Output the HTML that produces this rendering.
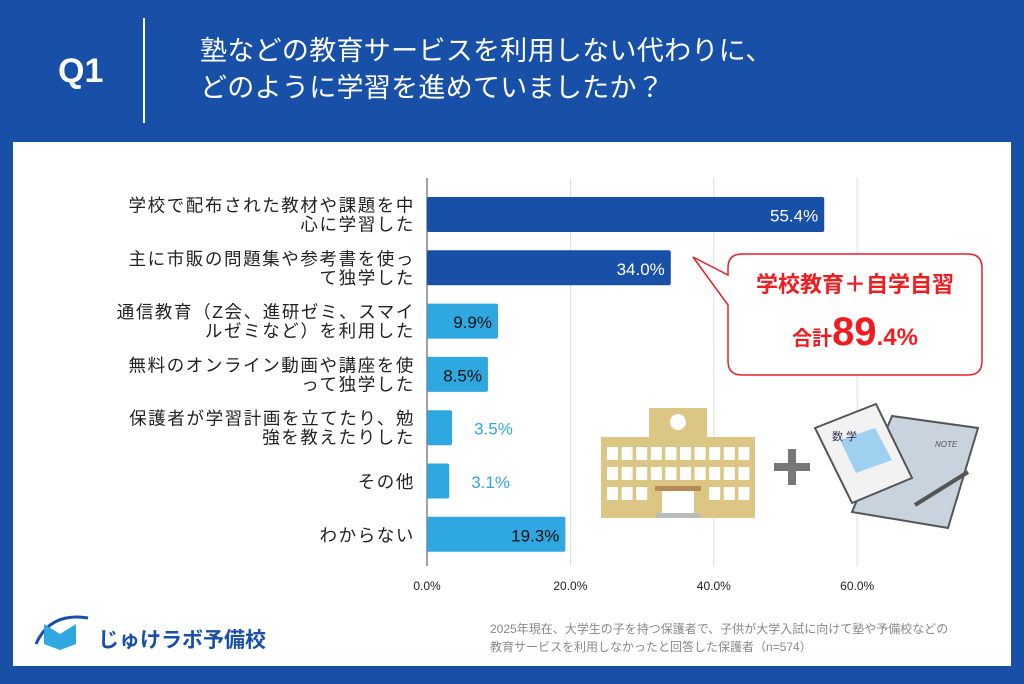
<!DOCTYPE html>
<html><head><meta charset="utf-8"><style>
body{margin:0;width:1024px;height:684px;background:#1850a8;font-family:"Liberation Sans","Noto Sans CJK JP",sans-serif;position:relative;overflow:hidden}
.abs{position:absolute}
</style></head><body>
<div class="abs" style="left:58px;top:52px;color:#fff;font-size:34px;font-weight:bold">Q1</div>
<div class="abs" style="left:143px;top:18px;width:2px;height:105px;background:#fff"></div>
<div class="abs" style="left:200px;top:33px;color:#fff;font-size:27px;line-height:37px;letter-spacing:0.3px">塾などの教育サービスを利用しない代わりに、<br>どのように学習を進めていましたか？</div>
<div class="abs" style="left:13px;top:142px;width:998px;height:524px;background:#fff"></div>
<svg class="abs" style="left:0;top:0" width="1024" height="684">
<g id="grid"></g><g id="bars"></g>
<g>
<path d="M742,254 H968 Q982,254 982,268 V361 Q982,375 968,375 H742 Q728,375 728,361 V305 L693,257 L728,275 V268 Q728,254 742,254 Z" fill="#fff" stroke="#e8202a" stroke-width="1.5"/>
<text x="855" y="292" text-anchor="middle" font-size="22" font-weight="bold" fill="#f01c20">学校教育＋自学自習</text>
<text x="855" y="345" text-anchor="middle" fill="#f01c20" font-weight="bold"><tspan font-size="20">合計</tspan><tspan font-size="40">89</tspan><tspan font-size="24">.4%</tspan></text>
</g>
<g>
<rect x="649" y="408" width="58" height="32" fill="#dcc684"/>
<circle cx="678" cy="422" r="8" fill="#fff"/>
<rect x="601" y="437" width="154" height="81" fill="#dcc684"/>
<g id="win"></g>
<rect x="655" y="486" width="46" height="5" fill="#b58a55"/>
<rect x="662" y="491" width="32" height="23" fill="#fff"/>
<rect x="656" y="513" width="44" height="5" fill="#bbb"/>
</g>
<g fill="#777"><rect x="774" y="463" width="36" height="8"/><rect x="788" y="449" width="8" height="36"/></g>
<g>
<path d="M892,416 L978,428 L948,528 L852,512 Z" fill="#c8d3de" stroke="#555" stroke-width="2"/>
<text x="935" y="447" font-size="8" fill="#555" font-style="italic">NOTE</text>
<path d="M815,428 L876,404 L912,478 L852,503 Z" fill="#f2f2f2" stroke="#555" stroke-width="2"/>
<path d="M840,440 L875,428 L892,460 L856,473 Z" fill="#9fd0f0"/>
<text x="832" y="440" font-size="11" fill="#335">数 学</text>
<line x1="915" y1="505" x2="968" y2="472" stroke="#555" stroke-width="4"/>
</g>
</svg>
<div class="abs" style="left:30px;top:612px;width:60px;height:40px">
<svg width="60" height="40"><path d="M6,32 Q20,0 58,6" stroke="#1850a8" stroke-width="3" fill="none"/><path d="M14,12 L30,22 L46,12 V32 L30,38 L14,32Z" fill="#2fa7e0"/></svg></div>
<div class="abs" style="left:98px;top:624px;color:#1850a8;font-size:21px;font-weight:bold">じゅけラボ予備校</div>
<div class="abs" style="left:490px;top:620px;color:#888;font-size:12px;line-height:18px">2025年現在、大学生の子を持つ保護者で、子供が大学入試に向けて塾や予備校などの<br>教育サービスを利用しなかったと回答した保護者（n=574）</div>
<script>
const categories=[["学校で配布された教材や課題を中","心に学習した"],["主に市販の問題集や参考書を使っ","て独学した"],["通信教育（Z会、進研ゼミ、スマイ","ルゼミなど）を利用した"],["無料のオンライン動画や講座を使","って独学した"],["保護者が学習計画を立てたり、勉","強を教えたりした"],["その他"],["わからない"]];
const values=[55.4,34.0,9.9,8.5,3.5,3.1,19.3];
const ticks=[0,20,40,60];
const NS="http://www.w3.org/2000/svg";
const x0=427,pxPer=7.17,y0=214.5,pitch=53.3,bh=35;
const xs=v=>x0+v*pxPer, ys=i=>y0+i*pitch;
function mk(t,a,p){const e=document.createElementNS(NS,t);for(const k in a)e.setAttribute(k,a[k]);p.appendChild(e);return e;}
const g=document.getElementById('grid'),b=document.getElementById('bars');
ticks.forEach(t=>{
 const l=mk('line',{x1:xs(t),x2:xs(t),y1:178,y2:566,stroke:t?'#ddd':'#444','stroke-width':1},g);
 
 
 const tx=mk('text',{x:xs(t),y:590,'text-anchor':'middle','font-size':12,fill:'#222'},g);
 tx.textContent=t.toFixed(1)+'%';
 
 
});
values.forEach((v,i)=>{
 const c=i<2?'#1850a8':'#2fa7e0';
 const r=mk('rect',{x:x0,y:ys(i)-bh/2,width:v*pxPer,height:bh,fill:c,rx:2},b);
 
 
 const small=v<5;
 const t=mk('text',{x:small?xs(v)+22:xs(v)-6,y:ys(i)+7,'text-anchor':small?'start':'end','font-size':17,fill:i<2?'#fff':(small?'#2fa7e0':'#111')},b);
 t.textContent=v.toFixed(1)+'%';
 
 
 const lines=categories[i];
 lines.forEach((s,j)=>{
  const lt=mk('text',{x:415,y:ys(i)+(lines.length>1?(j?16:-3):7),'text-anchor':'end','font-size':17.5,'letter-spacing':1.6,fill:'#222'},b);
  lt.textContent=s;
  
  
 });
});
const w=document.getElementById('win');
for(let r=0;r<3;r++)for(let c=0;c<10;c++){
 if(r==2&&c>=3&&c<=6)continue;
 mk('rect',{x:607+c*14.6,y:447+r*20,width:11,height:13,fill:'#fff'},w);
}
</script>
</body></html>
